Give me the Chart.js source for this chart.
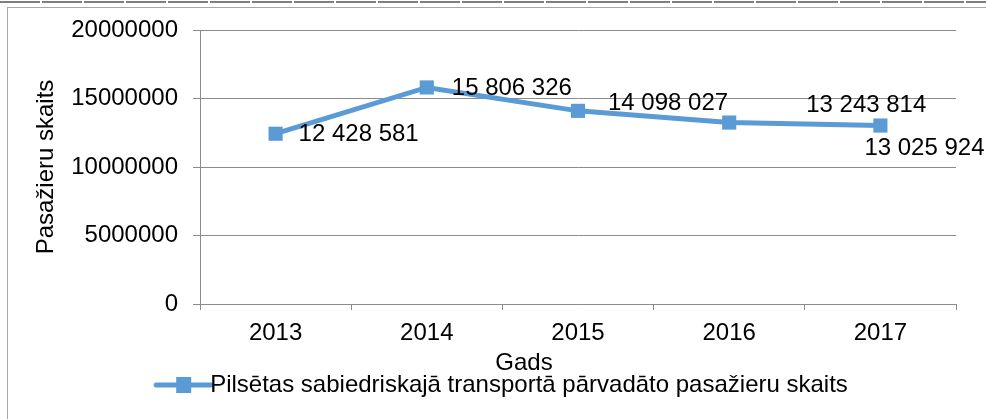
<!DOCTYPE html>
<html>
<head>
<meta charset="utf-8">
<script src="https://cdn.jsdelivr.net/npm/chart.js@4/dist/chart.umd.min.js"></script>
<style>
  html, body { margin: 0; padding: 0; background: #fff; }
  #wrap { width: 986px; height: 419px; position: relative; }
</style>
</head>
<body>
<div id="wrap"><canvas id="lineChart" width="986" height="419"></canvas></div>
<script>
const years = ["2013", "2014", "2015", "2016", "2017"];
const passengers = [12428581, 15806326, 14098027, 13243814, 13025924];
const yTicks = [0, 5000000, 10000000, 15000000, 20000000];
const seriesName = "Pilsētas sabiedriskajā transportā pārvadāto pasažieru skaits";
const xTitle = "Gads";

const blue = "#5B9BD5";
const grid = "#8C8C8C";
const font = "Liberation Sans, Arial, sans-serif";
const fs = 24;

// label offsets from each point (px)
const labelOffsets = [[23, 1], [25, 1], [30, -7], [77, -17], [-16, 23]];

function fmt(v) {
  return String(v).replace(/\B(?=(\d{3})+(?!\d))/g, " ");
}

// legend marker: short line with a square (blank left half keeps it centred)
function legendMarker() {
  const c = document.createElement("canvas");
  c.width = 120; c.height = 18;
  const g = c.getContext("2d");
  g.strokeStyle = blue; g.lineWidth = 5; g.lineCap = "round";
  g.beginPath(); g.moveTo(63, 9); g.lineTo(118, 9); g.stroke();
  g.fillStyle = blue; g.fillRect(83, 1, 15, 16);
  return c;
}

const frame = {
  id: "frame",
  beforeDraw(chart) {
    const ctx = chart.ctx;
    ctx.save();
    ctx.fillStyle = "#fff";
    ctx.fillRect(0, 0, chart.width, chart.height);
    ctx.strokeStyle = "#555"; ctx.lineWidth = 1.5;
    ctx.setLineDash([40, 2]);
    ctx.beginPath(); ctx.moveTo(0, 2); ctx.lineTo(chart.width, 2); ctx.stroke();
    ctx.setLineDash([]);
    ctx.strokeStyle = "#A6A6A6"; ctx.lineWidth = 1;
    ctx.strokeRect(7.5, 7.5, chart.width + 20, chart.height + 20);
    ctx.restore();
  }
};

// x axis title sits left of the plot centre in the original
const axisTitle = {
  id: "axisTitle",
  afterDraw(chart) {
    const ctx = chart.ctx;
    const x = chart.scales.x;
    ctx.save();
    ctx.font = fs + "px " + font;
    ctx.fillStyle = "#000";
    ctx.textAlign = "center";
    ctx.textBaseline = "middle";
    ctx.fillText(xTitle, (x.left + x.right) / 2 - 54, x.top + 59);
    ctx.restore();
  }
};

const dataLabels = {
  id: "dataLabels",
  afterDatasetsDraw(chart) {
    const ctx = chart.ctx;
    const meta = chart.getDatasetMeta(0);
    ctx.save();
    ctx.font = fs + "px " + font;
    ctx.fillStyle = "#000";
    ctx.textBaseline = "middle";
    ctx.textAlign = "left";
    meta.data.forEach((pt, i) => {
      const [dx, dy] = labelOffsets[i];
      ctx.fillText(fmt(passengers[i]), pt.x + dx, pt.y + dy);
    });
    ctx.restore();
  }
};

const ctx = document.getElementById("lineChart").getContext("2d");
new Chart(ctx, {
  type: "line",
  data: {
    labels: years,
    datasets: [{
      label: seriesName,
      data: passengers,
      borderColor: blue,
      backgroundColor: blue,
      borderWidth: 5,
      pointStyle: "rect",
      pointRadius: 10,
      pointBorderWidth: 0,
      tension: 0,
    }],
  },
  options: {
    responsive: false,
    animation: false,
    layout: { padding: { top: 30, right: 30, left: 0, bottom: 12 } },
    scales: {
      x: {
        offset: true,
        grid: { display: true, drawOnChartArea: false, offset: true, tickLength: 6, color: grid },
        border: { color: grid },
        ticks: { font: { size: fs, family: font }, color: "#000", padding: 9 },
        title: { display: false },
        afterFit(s) { s.height = 59; },
      },
      y: {
        min: 0,
        max: 20000000,
        afterBuildTicks(s) { s.ticks = yTicks.map(v => ({ value: v })); },
        grid: { color: grid, tickLength: 7 },
        border: { color: grid },
        ticks: { font: { size: fs, family: font }, color: "#000", padding: 15, callback: v => String(v) },
        title: { display: true, text: "Pasažieru skaits", font: { size: fs, family: font }, color: "#000", padding: { top: 32, bottom: 0 } },
        afterFit(s) { s.width = 200; },
      },
    },
    plugins: {
      tooltip: { enabled: false },
      legend: {
        position: "bottom",
        labels: {
          font: { size: fs, family: font },
          color: "#000",
          usePointStyle: true,
          pointStyleWidth: 90,
          padding: 10,
          generateLabels() {
            return [{ text: seriesName, pointStyle: legendMarker(), hidden: false, datasetIndex: 0, lineWidth: 0 }];
          },
        },
      },
    },
  },
  plugins: [frame, axisTitle, dataLabels],
});
</script>
</body>
</html>
